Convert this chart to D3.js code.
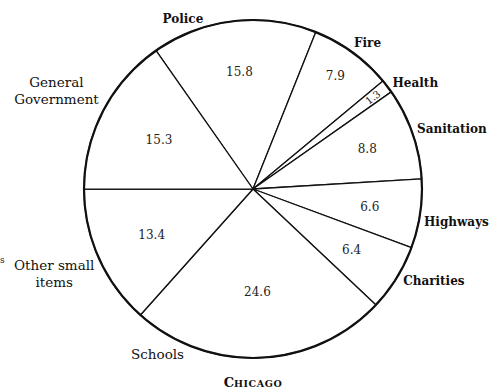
<!DOCTYPE html>
<html><head><meta charset="utf-8">
<script src="https://cdn.jsdelivr.net/npm/d3@7"></script>
<style>body{margin:0;background:#fff}svg{display:block}</style>
</head><body>
<svg id="c" width="500" height="392"></svg>
<script>
const categories = ["Police","Fire","Health","Sanitation","Highways","Charities","Schools","Other small items","General Government"];
const values = [15.8, 7.9, 1.3, 8.8, 6.6, 6.4, 24.6, 13.4, 15.3];
const valueLabels = ["15.8","7.9","1.3","8.8","6.6","6.4","24.6","13.4","15.3"];
const title = "Chicago";

// layout config (not data)
const cx = 253, cy = 189, R = 169;
const startDeg = -35;
const valueRadius = [118,140,151,121,118,116,103,111,106];
const nameLayout = [ // [angleDeg, radius, lines, bold]
  [-22.4,184,["Police"],true],
  [38,186,["Fire"],true],
  [56.8,194,["Health"],true],
  [73,208,["Sanitation"],true],
  [99,206,["Highways"],true],
  [117,203,["Charities"],true],
  [210,191,["Schools"],false],
  [247,216,["Other small","items"],false],
  [296.7,220,["General","Government"],false]
];

const svg = d3.select("#c");
const g = svg.append("g").attr("transform",`translate(${cx},${cy})`);
const rad = d => d*Math.PI/180;
const pie = d3.pie().sort(null).value(d=>d).startAngle(rad(startDeg)).endAngle(rad(startDeg+360));
const arcs = pie(values);
const arc = d3.arc().innerRadius(0).outerRadius(R);

g.selectAll("path.slice").data(arcs).join("path")
  .attr("class","slice").attr("d",arc)
  .attr("fill","#fff").attr("stroke","#111").attr("stroke-width",1.3).attr("stroke-linejoin","round");
g.append("circle").attr("r",R).attr("fill","none").attr("stroke","#111").attr("stroke-width",2.2);

const font = "'DejaVu Serif', serif";
g.selectAll("text.val").data(arcs).join("text")
  .attr("class","val")
  .attr("transform",(d,i)=>{
    const a = (d.startAngle+d.endAngle)/2, r = valueRadius[i];
    const x = r*Math.sin(a), y = -r*Math.cos(a);
    const rot = d.endAngle-d.startAngle < 0.15 ? ` rotate(${a*180/Math.PI-90})` : "";
    return `translate(${x},${y})${rot}`;
  })
  .attr("text-anchor","middle").attr("dy","0.36em")
  .attr("font-family",font).attr("font-size",(d,i)=> (d.endAngle-d.startAngle<0.15)?10:12)
  .attr("fill","#222")
  .text((d,i)=>valueLabels[i]);

nameLayout.forEach((L,i)=>{
  const a = rad(L[0]), x = L[1]*Math.sin(a), y = -L[1]*Math.cos(a);
  const lines = L[2];
  const t = g.append("text").attr("text-anchor","middle")
    .attr("font-family",font).attr("font-size",L[3]?12:13.5)
    .attr("font-weight",L[3]?"bold":"normal").attr("fill","#111");
  lines.forEach((s,j)=>{
    t.append("tspan").attr("x",x).attr("y",y+(j-(lines.length-1)/2)*17).attr("dy","0.36em").text(s);
  });
});

// title in small caps
const tt = svg.append("text").attr("x",cx).attr("y",387).attr("text-anchor","middle")
  .attr("font-family",font).attr("font-weight","bold").attr("fill","#111");
tt.append("tspan").attr("font-size",13).text(title[0].toUpperCase());
tt.append("tspan").attr("font-size",9.5).attr("letter-spacing",0.6).text(title.slice(1).toUpperCase());

// stray fragment at left edge of the scan
svg.append("text").attr("x",0).attr("y",263).attr("font-family",font).attr("font-size",9).attr("fill","#222").text("s");
</script>
</body></html>
